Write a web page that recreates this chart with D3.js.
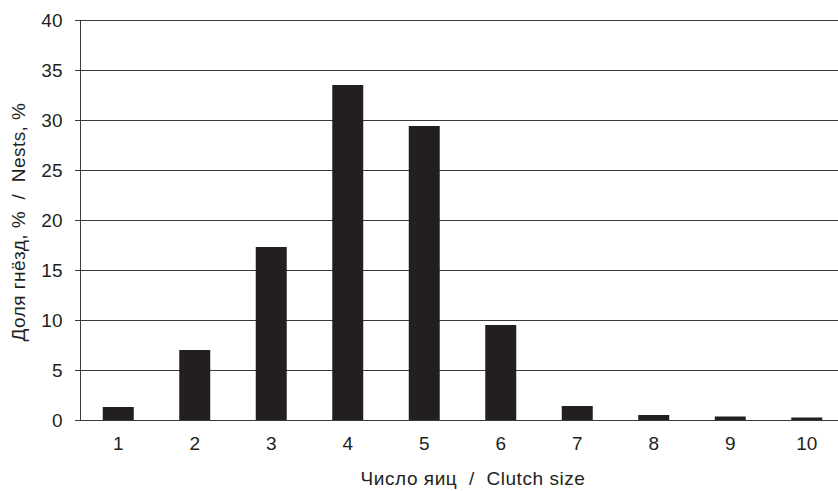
<!DOCTYPE html>
<html><head><meta charset="utf-8">
<script src="https://cdn.jsdelivr.net/npm/d3@7"></script>
<style>body{margin:0;background:#fff}text{font-family:"Liberation Sans",Arial,sans-serif;fill:#231f20}</style>
</head><body>
<svg id="c" width="838" height="491"></svg>
<script>
const categories = ["1","2","3","4","5","6","7","8","9","10"];
const values = [1.3, 7.0, 17.3, 33.5, 29.4, 9.5, 1.4, 0.5, 0.35, 0.25];
const yTicks = [0,5,10,15,20,25,30,35,40];
const xTitle = "Число яиц  /  Clutch size";
const yTitle = "Доля гнёзд, %  /  Nests, %";

const svg = d3.select("#c");
const mLeft = 80, mRight = 845, mTop = 20, mBottom = 420;
const x = d3.scaleBand().domain(categories).range([mLeft, mRight]).paddingInner(0.595).paddingOuter(0.2975);
const y = d3.scaleLinear().domain([0,40]).range([mBottom, mTop]);

// gridlines
svg.append("g").selectAll("line").data(yTicks).join("line")
  .attr("x1", 75).attr("x2", 838)
  .attr("y1", d => y(d)+0.5).attr("y2", d => y(d)+0.5)
  .attr("stroke", "#3a3a3a").attr("stroke-width", 1);

// y axis
const ya = svg.append("g").attr("transform", `translate(${mLeft+0.5},0)`)
  .call(d3.axisLeft(y).tickValues(yTicks).tickSize(5).tickPadding(13));
ya.select(".domain").attr("stroke", "#3a3a3a").attr("d", `M0,${mTop}V${mBottom}`);
ya.selectAll(".tick line").attr("stroke", "#3a3a3a");
ya.selectAll("text").style("font-size","19px").attr("fill","#231f20").attr("font-family",null);

// bars
svg.append("g").selectAll("rect").data(values).join("rect")
  .attr("x", (d,i) => x(categories[i]))
  .attr("width", x.bandwidth())
  .attr("y", d => y(d))
  .attr("height", d => y(0) - y(d))
  .attr("fill", "#231f20");

// x axis labels
const xa = svg.append("g").attr("transform", `translate(0,${mBottom})`)
  .call(d3.axisBottom(x).tickSize(0).tickPadding(17));
xa.select(".domain").remove();
xa.selectAll("text").style("font-size","19px").attr("fill","#231f20").attr("font-family",null);

svg.append("text").attr("x", 473).attr("y", 485)
  .attr("text-anchor","middle").style("font-size","19px").style("letter-spacing","0.55px")
  .style("white-space","pre").text(xTitle);
svg.append("text").attr("transform","translate(25,222) rotate(-90)")
  .attr("text-anchor","middle").style("font-size","19px").style("letter-spacing","0.45px")
  .style("white-space","pre").text(yTitle);
</script>
</body></html>
